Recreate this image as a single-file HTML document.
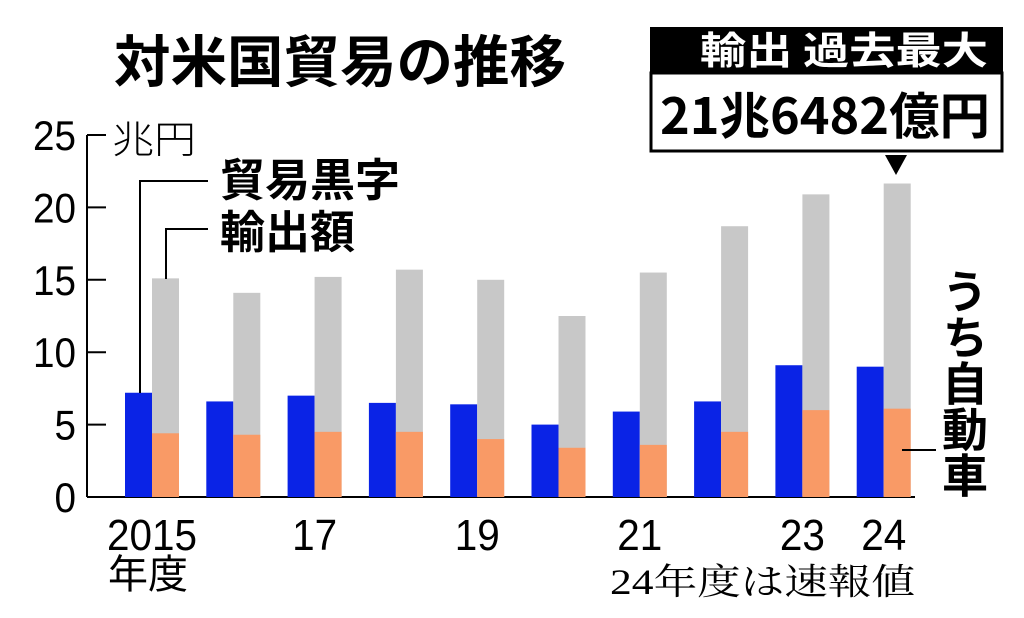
<!DOCTYPE html>
<html><head><meta charset="utf-8">
<style>
body{margin:0;background:#fff;}
svg text{font-family:"Liberation Sans","Noto Sans CJK JP",sans-serif;}
</style></head><body>
<svg id="chart" width="1024" height="613" viewBox="0 0 1024 613" xmlns="http://www.w3.org/2000/svg">
<text x="114" y="82" font-size="56" font-weight="bold" textLength="452" lengthAdjust="spacingAndGlyphs" style="font-family:'Noto Sans CJK JP',sans-serif">対米国貿易の推移</text>
<g id="axis"></g>
<g id="bars"></g>
<text x="112" y="153" font-size="38" font-weight="300" textLength="84" lengthAdjust="spacingAndGlyphs" style="font-family:'Noto Sans CJK JP',sans-serif">兆円</text>
<g>
<polyline points="208,181 140,181 140,393" fill="none" stroke="#000" stroke-width="2"/>
<polyline points="208,229 166,229 166,279" fill="none" stroke="#000" stroke-width="2"/>
<text x="220" y="196" font-size="45" font-weight="bold" textLength="180" lengthAdjust="spacingAndGlyphs" style="font-family:'Noto Sans CJK JP',sans-serif">貿易黒字</text>
<text x="220" y="248" font-size="45" font-weight="bold" textLength="135" lengthAdjust="spacingAndGlyphs" style="font-family:'Noto Sans CJK JP',sans-serif">輸出額</text>
<line x1="902" y1="450" x2="936" y2="450" stroke="#000" stroke-width="2"/>
<text font-size="46" font-weight="bold" style="font-family:'Noto Sans CJK JP',sans-serif;writing-mode:vertical-rl" x="965" y="268" writing-mode="tb">うち自動車</text>
</g>
<g>
<rect x="650" y="27" width="353" height="46" fill="#000"/>
<text x="700" y="64" font-size="38" font-weight="bold" fill="#fff" textLength="288" lengthAdjust="spacingAndGlyphs" style="font-family:'Noto Sans CJK JP',sans-serif">輸出  過去最大</text>
<rect x="651" y="73" width="351" height="78" fill="#fff" stroke="#000" stroke-width="3"/>
<text x="660" y="134" font-size="50" font-weight="bold" textLength="330" lengthAdjust="spacingAndGlyphs" style="font-family:'Noto Sans CJK JP',sans-serif">21兆6482億円</text>
<polygon points="885,155 907,155 896,175" fill="#000"/>
</g>
<text x="148" y="588" text-anchor="middle" font-size="40" style="font-family:'Noto Sans CJK JP',sans-serif">年度</text>
<text x="610" y="594" font-size="36" textLength="305" lengthAdjust="spacingAndGlyphs" style="font-family:'Liberation Serif','Noto Serif CJK SC',serif">24年度は速報値</text>
</svg>
<script>
const years=['2015','16','17','18','19','20','21','22','23','24'];
const xLabels=['2015','','17','','19','','21','','23','24'];
const surplus=[7.2,6.6,7.0,6.5,6.4,5.0,5.9,6.6,9.1,9.0];
const exportsV=[15.1,14.1,15.2,15.7,15.0,12.5,15.5,18.7,20.9,21.65];
const autos=[4.4,4.3,4.5,4.5,4.0,3.4,3.6,4.5,6.0,6.1];
const yTicks=[0,5,10,15,20,25];
const NS='http://www.w3.org/2000/svg';
const y0=497,pxPer=14.48,x0=125,step=81.3,bw=27;
const yS=v=>y0-v*pxPer;
const xS=i=>x0+i*step;
function mk(t,a,p){const e=document.createElementNS(NS,t);for(const k in a)e.setAttribute(k,a[k]);p.appendChild(e);return e;}
const ax=document.getElementById('axis'),bars=document.getElementById('bars');
const al=mk('line',{x1:87,y1:yS(25),x2:87,y2:y0,stroke:'#000','stroke-width':2},ax);


const bl=mk('line',{x1:87,y1:y0,x2:915,y2:y0,stroke:'#000','stroke-width':2},ax);


yTicks.forEach(v=>{
 const t=mk('line',{x1:87,y1:yS(v),x2:106,y2:yS(v),stroke:'#000','stroke-width':2},ax);
 
 
 const l=mk('text',{x:76,y:yS(v)+15,'text-anchor':'end','font-size':42,transform:'translate(76 0) scale(0.92 1) translate(-76 0)'},ax);
 
 
 l.textContent=v;
});
years.forEach((y,i)=>{
 const x=xS(i);
 const b=mk('rect',{x:x,y:yS(surplus[i]),width:bw,height:surplus[i]*pxPer,fill:'#0a23e6'},bars);
 
 
 const g=mk('rect',{x:x+bw,y:yS(exportsV[i]),width:bw,height:exportsV[i]*pxPer,fill:'#c8c8c8'},bars);
 
 
 const o=mk('rect',{x:x+bw,y:yS(autos[i]),width:bw,height:autos[i]*pxPer,fill:'#f99a66'},bars);
 
 
 if(xLabels[i]){
  const cx=x+bw;
  const l=mk('text',{x:cx,y:550,'text-anchor':'middle','font-size':44,transform:'translate('+cx+' 0) scale(0.92 1) translate('+(-cx)+' 0)'},bars);
  
  
  l.textContent=xLabels[i];
 }
});
</script>
</body></html>
